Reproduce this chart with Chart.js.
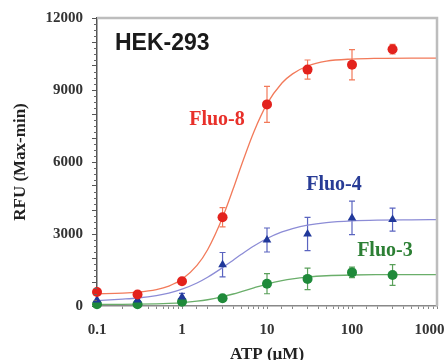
<!DOCTYPE html>
<html><head><meta charset="utf-8">
<style>html,body{margin:0;padding:0;background:#fff}</style>
<script src="https://cdn.jsdelivr.net/npm/chart.js@4.4.0/dist/chart.umd.min.js"></script>
</head><body>
<canvas id="c" width="444" height="360"></canvas>
<script>
// ---- data ----
const atpDoses = [0.1, 0.3, 1, 3, 10, 30, 100, 300];
const fluo8 = [580, 480, 1030, 3700, 8400, 9850, 10050, 10700];
const fluo8Err = [0, 0, 80, 400, 750, 400, 630, 200];
const fluo4 = [250, 250, 380, 1720, 2750, 3000, 3670, 3600];
const fluo4Err = [0, 0, 150, 510, 500, 690, 700, 480];
const fluo3 = [70, 70, 180, 320, 930, 1130, 1400, 1290];
const fluo3Err = [0, 0, 50, 100, 420, 450, 220, 430];

// fitted curves
const curveDoses = [0.1, 0.2, 0.3, 0.5, 0.7, 1, 1.5, 2, 3, 4, 5, 7, 10, 15, 20, 30, 50, 100, 200, 500, 1000];
const fluo8Fit = [510, 536, 575, 685, 832, 1113, 1692, 2346, 3690, 4882, 5864, 7252, 8420, 9293, 9673, 10000, 10200, 10290, 10320, 10330, 10330];
const fluo4Fit = [228, 288, 333, 432, 538, 699, 958, 1197, 1598, 1910, 2153, 2499, 2813, 3086, 3228, 3371, 3478, 3549, 3579, 3592, 3597];
const fluo3Fit = [63, 68, 74, 89, 108, 140, 199, 261, 386, 500, 600, 756, 914, 1058, 1134, 1207, 1260, 1292, 1304, 1309, 1310];

const xTickLabels = ['0.1', '1', '10', '100', '1000    '];
const yTickLabels = ['0', '3000', '6000', '9000', '12000'];
const seriesNames = ['Fluo-8', 'Fluo-4', 'Fluo-3'];
const panelTitle = 'HEK-293';
const xTitle = 'ATP (\u00b5M)';
const yTitle = 'RFU (Max-min)';

// ---- styling ----
const colRed = '#e3221d', colRedLine = '#f27a5a';
const colBlue = '#20389a', colBlueLine = '#8c8cd6';
const colGreen = '#1f8a3a', colGreenLine = '#6aae6a';
const serif = '"Liberation Serif", "Times New Roman", serif';
const sans = '"Liberation Sans", Arial, sans-serif';

const pts = (xs, ys) => xs.map((x, i) => ({x: x, y: ys[i]}));

const labelAnchors = [
  {name: seriesNames[0], x: 2.58, y: 7770, color: '#e8302a'},
  {name: seriesNames[1], x: 61.4, y: 5055, color: '#283c96'},
  {name: seriesNames[2], x: 244, y: 2300, color: '#2c7f34'}
];

const extras = {
  id: 'extras',
  beforeDatasetsDraw(chart) {
    const ctx = chart.ctx, xs = chart.scales.x, ys = chart.scales.y;
    chart.data.datasets.forEach(ds => {
      if (!ds.errors) return;
      ctx.save();
      ctx.strokeStyle = ds.errColor;
      ctx.lineWidth = 1.2;
      ds.data.forEach((p, i) => {
        const e = ds.errors[i];
        if (!e) return;
        const px = xs.getPixelForValue(p.x);
        const y1 = ys.getPixelForValue(p.y - e), y2 = ys.getPixelForValue(p.y + e);
        ctx.beginPath();
        ctx.moveTo(px, y1); ctx.lineTo(px, y2);
        ctx.moveTo(px - 3, y1); ctx.lineTo(px + 3, y1);
        ctx.moveTo(px - 3, y2); ctx.lineTo(px + 3, y2);
        ctx.stroke();
      });
      ctx.restore();
    });
  },
  afterDraw(chart) {
    const ctx = chart.ctx, a = chart.chartArea, xs = chart.scales.x, ys = chart.scales.y;
    ctx.save();
    ctx.strokeStyle = '#bdbdbd';
    ctx.lineWidth = 2.5;
    ctx.beginPath();
    ctx.moveTo(a.left, a.top); ctx.lineTo(a.right, a.top); ctx.lineTo(a.right, a.bottom);
    ctx.stroke();
    ctx.strokeStyle = '#666';
    ctx.lineWidth = 1;
    ctx.beginPath();
    for (let v = 250; v < ys.max; v += 250) {
      if (v % 1000 === 0) continue;
      const py = Math.round(ys.getPixelForValue(v)) + 0.5;
      ctx.moveTo(a.left - 3, py); ctx.lineTo(a.left, py);
    }
    ctx.stroke();
    ctx.fillStyle = '#1a1a1a';
    ctx.font = 'bold 23px ' + sans;
    ctx.textBaseline = 'middle';
    ctx.textAlign = 'left';
    ctx.fillText(panelTitle, a.left + 18, a.top + 26);
    ctx.font = 'bold 20px ' + serif;
    ctx.textAlign = 'center';
    labelAnchors.forEach(l => {
      ctx.fillStyle = l.color;
      ctx.fillText(l.name, xs.getPixelForValue(l.x), ys.getPixelForValue(l.y));
    });
    ctx.restore();
  }
};

const isDecade = v => Math.abs(Math.log10(v) - Math.round(Math.log10(v))) < 1e-6;
const tickFont = {family: serif, weight: 'bold', size: 15};
const titleFont = {family: serif, weight: 'bold', size: 17};

new Chart(document.getElementById('c'), {
  type: 'scatter',
  data: {
    datasets: [
      {label: seriesNames[0], data: pts(atpDoses, fluo8), errors: fluo8Err, errColor: colRedLine,
       pointStyle: 'circle', pointRadius: 5, backgroundColor: colRed, borderColor: colRed, borderWidth: 0, clip: false},
      {label: seriesNames[1], data: pts(atpDoses, fluo4), errors: fluo4Err, errColor: '#5a64c0',
       pointStyle: 'triangle', pointRadius: 5, backgroundColor: colBlue, borderColor: colBlue, borderWidth: 0, clip: false},
      {label: seriesNames[2], data: pts(atpDoses, fluo3), errors: fluo3Err, errColor: '#5aa05a',
       pointStyle: 'circle', pointRadius: 5, backgroundColor: colGreen, borderColor: colGreen, borderWidth: 0, clip: false},
      {type: 'line', data: pts(curveDoses, fluo8Fit), borderColor: colRedLine, borderWidth: 1.3, pointRadius: 0, cubicInterpolationMode: 'monotone', fill: false},
      {type: 'line', data: pts(curveDoses, fluo4Fit), borderColor: colBlueLine, borderWidth: 1.3, pointRadius: 0, cubicInterpolationMode: 'monotone', fill: false},
      {type: 'line', data: pts(curveDoses, fluo3Fit), borderColor: colGreenLine, borderWidth: 1.3, pointRadius: 0, cubicInterpolationMode: 'monotone', fill: false}
    ]
  },
  options: {
    responsive: false,
    animation: false,
    layout: {padding: {top: 14, right: 7, left: 0, bottom: 0}},
    plugins: {legend: {display: false}, tooltip: {enabled: false}},
    scales: {
      x: {
        type: 'logarithmic', min: 0.1, max: 1000, position: 'bottom',
        afterFit(s) { s.height = 54; s.paddingLeft = 0; s.paddingRight = 0; },
        grid: {drawOnChartArea: false, drawTicks: true, tickLength: 3, color: '#888'},
        border: {color: '#888', width: 1.5},
        ticks: {autoSkip: false, maxRotation: 0, padding: 12, font: tickFont, color: '#333',
          callback: v => isDecade(v) ? xTickLabels[Math.round(Math.log10(v)) + 1] : ''},
        title: {display: true, text: xTitle, font: titleFont, color: '#222', padding: {top: 0, bottom: -5}}
      },
      y: {
        min: 0, max: 12000,
        afterFit(s) { s.width = 97; },
        grid: {drawOnChartArea: false, drawTicks: true, tickLength: 5, color: '#555'},
        border: {color: '#555', width: 1.5},
        ticks: {stepSize: 1000, padding: 9, font: tickFont, color: '#333',
          callback: v => (v % 3000 === 0) ? yTickLabels[v / 3000] : ''},
        title: {display: true, text: yTitle, font: titleFont, color: '#222', padding: {top: 10, bottom: 0}}
      }
    }
  },
  plugins: [extras]
});
</script>
</body></html>
